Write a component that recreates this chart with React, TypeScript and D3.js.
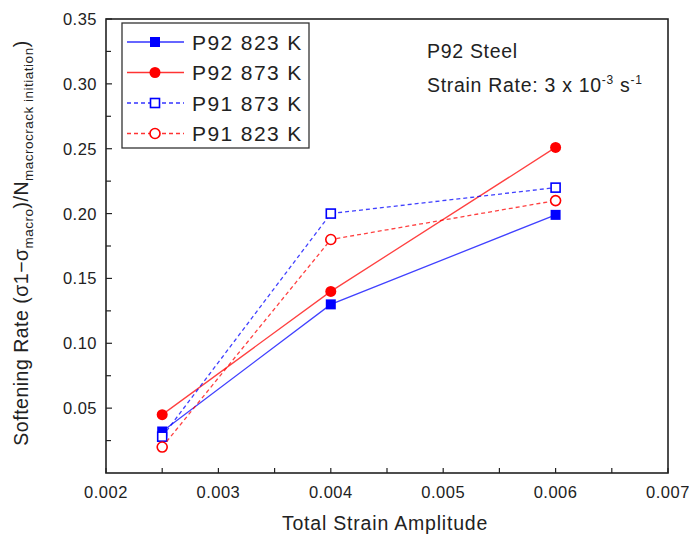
import React from "react";
import * as d3 from "d3";

const strain = [0.0025, 0.004, 0.006];
const p92_823 = [0.032, 0.13, 0.199];
const p92_873 = [0.045, 0.14, 0.251];
const p91_873 = [0.028, 0.2, 0.22];
const p91_823 = [0.02, 0.18, 0.21];

const xTicks = [0.002, 0.003, 0.004, 0.005, 0.006, 0.007];
const xMinor = [0.0025, 0.0035, 0.0045, 0.0055, 0.0065];
const yTicks = [0.05, 0.1, 0.15, 0.2, 0.25, 0.3, 0.35];
const yMinor = [0.025, 0.075, 0.125, 0.175, 0.225, 0.275, 0.325];

const seriesList = [
  { name: "P92 823 K", values: p92_823, color: "#0000ff", dash: false, marker: "square", filled: true },
  { name: "P92 873 K", values: p92_873, color: "#ff0000", dash: false, marker: "circle", filled: true },
  { name: "P91 873 K", values: p91_873, color: "#0000ff", dash: true, marker: "square", filled: false },
  { name: "P91 823 K", values: p91_823, color: "#ff0000", dash: true, marker: "circle", filled: false },
];

const L = 106, R = 668, T = 19, B = 473;

function Marker({ x, y, s }: { x: number; y: number; s: any }) {
  if (s.marker === "square") {
    const h = s.filled ? 5 : 4.5;
    return (
      <rect x={x - h} y={y - h} width={2 * h} height={2 * h}
        fill={s.filled ? s.color : "white"} stroke={s.color} strokeWidth={s.filled ? 0 : 1.6} />
    );
  }
  return (
    <circle cx={x} cy={y} r={s.filled ? 5.5 : 5}
      fill={s.filled ? s.color : "white"} stroke={s.color} strokeWidth={s.filled ? 0 : 1.6} />
  );
}

export default function App() {
  const x = d3.scaleLinear().domain([0.002, 0.007]).range([L, R]);
  const y = d3.scaleLinear().domain([0, 0.35]).range([B, T]);
  const line = d3.line<number>().x((_, i) => x(strain[i])).y((d) => y(d));
  const font = "Liberation Sans, Arial, sans-serif";
  const txt = "#222";

  return (
    <svg width={689} height={536} style={{ position: "absolute", left: 0, top: 0, fontFamily: font }}>
      <rect width={689} height={536} fill="white" />
      {/* ticks */}
      {xTicks.map((t) => (
        <g key={"xt" + t}>
          <line x1={x(t)} x2={x(t)} y1={B} y2={B - 5} stroke="#222" strokeWidth={1.2} />
          <text x={x(t)} y={B + 25} textAnchor="middle" fontSize={16.5} letterSpacing={0.5} fill={txt}>{t.toFixed(3)}</text>
        </g>
      ))}
      {xMinor.map((t) => (
        <line key={"xm" + t} x1={x(t)} x2={x(t)} y1={B} y2={B - 5} stroke="#222" strokeWidth={1.2} />
      ))}
      {yTicks.map((t) => (
        <g key={"yt" + t}>
          <line x1={L} x2={L + 6} y1={y(t)} y2={y(t)} stroke="#222" strokeWidth={1.2} />
          <text x={L - 9} y={y(t) + 6} textAnchor="end" fontSize={16.5} letterSpacing={0.5} fill={txt}>{t.toFixed(2)}</text>
        </g>
      ))}
      {yMinor.map((t) => (
        <line key={"ym" + t} x1={L} x2={L + 5} y1={y(t)} y2={y(t)} stroke="#222" strokeWidth={1.2} />
      ))}
      {/* series */}
      {seriesList.map((s) => (
        <g key={s.name}>
          <path d={line(s.values) || ""} fill="none" stroke={s.color} strokeOpacity={0.75}
            strokeWidth={1.3} strokeDasharray={s.dash ? "4,3" : undefined} />
          {s.values.map((v, i) => (
            <Marker key={i} x={x(strain[i])} y={y(v)} s={s} />
          ))}
        </g>
      ))}
      {/* frame */}
      <rect x={L} y={T} width={R - L} height={B - T} fill="none" stroke="#222" strokeWidth={1.6} />
      {/* legend */}
      <rect x={122} y={23} width={187} height={125} fill="white" stroke="#333" strokeWidth={1.3} />
      {seriesList.map((s, i) => {
        const ly = 42 + i * 30.5;
        return (
          <g key={"lg" + s.name}>
            <line x1={127} x2={184} y1={ly} y2={ly} stroke={s.color} strokeOpacity={0.8}
              strokeWidth={1.3} strokeDasharray={s.dash ? "4,3" : undefined} />
            <Marker x={155} y={ly} s={s} />
            <text x={192} y={ly + 7.5} fontSize={21} letterSpacing={1.4} fill={txt}>{s.name}</text>
          </g>
        );
      })}
      {/* annotation */}
      <text x={427} y={58} fontSize={19.5} letterSpacing={0.7} fill={txt}>P92 Steel</text>
      <text x={427} y={92} fontSize={19.5} letterSpacing={0.7} fill={txt}>
        Strain Rate: 3 x 10<tspan dy={-8} fontSize={12}>-3</tspan>
        <tspan dy={8}> s</tspan><tspan dy={-8} fontSize={12}>-1</tspan>
      </text>
      {/* axis titles */}
      <text x={385} y={530} textAnchor="middle" fontSize={19.5} letterSpacing={0.8} fill={txt}>Total Strain Amplitude</text>
      <text transform="translate(28,243) rotate(-90)" textAnchor="middle" fontSize={19.5} letterSpacing={0.5} fill={txt}>
        Softening Rate (σ1−σ<tspan dy={5} fontSize={13.5}>macro</tspan>
        <tspan dy={-5}>)/N</tspan><tspan dy={5} fontSize={13.5}>macrocrack initiation</tspan>
        <tspan dy={-5}>)</tspan>
      </text>
    </svg>
  );
}
